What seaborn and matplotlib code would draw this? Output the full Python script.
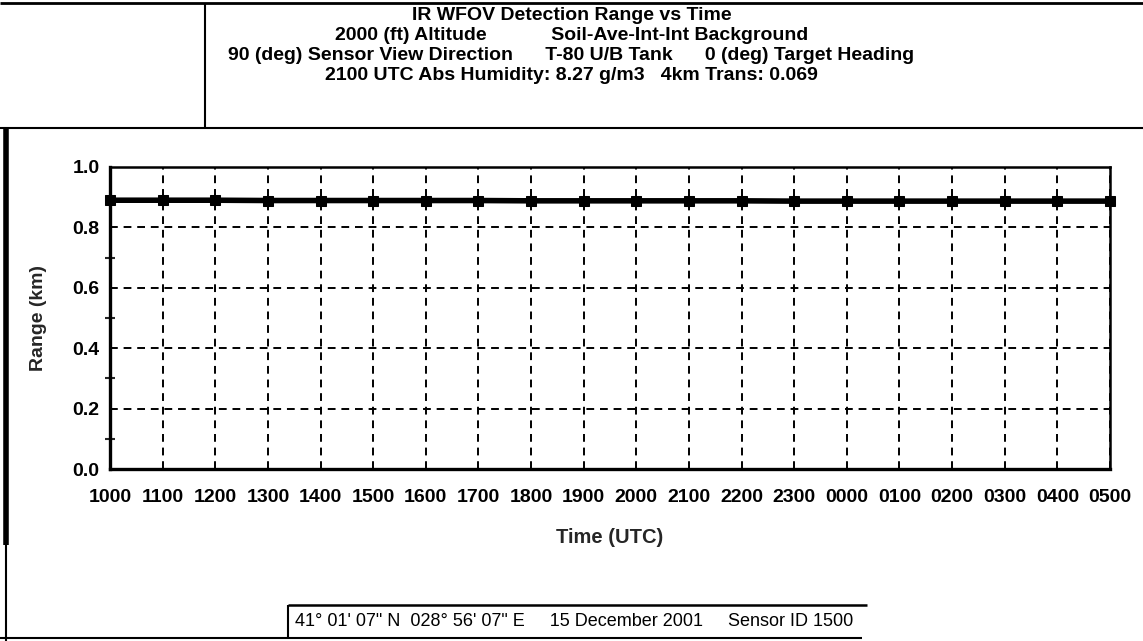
import matplotlib
matplotlib.use("Agg")
import matplotlib.pyplot as plt
from matplotlib.lines import Line2D
from matplotlib.ticker import MultipleLocator, FormatStrFormatter
import seaborn as sns

# Hourly detection range for the night pass
times = ["1000", "1100", "1200", "1300", "1400", "1500", "1600", "1700", "1800", "1900",
         "2000", "2100", "2200", "2300", "0000", "0100", "0200", "0300", "0400", "0500"]
ranges_km = [0.890, 0.890, 0.890, 0.889, 0.889, 0.889, 0.889, 0.889, 0.888, 0.888,
             0.888, 0.888, 0.888, 0.887, 0.887, 0.887, 0.887, 0.887, 0.887, 0.887]

title_lines = [
    "IR WFOV Detection Range vs Time",
    "2000 (ft) Altitude            Soil-Ave-Int-Int Background",
    "90 (deg) Sensor View Direction      T-80 U/B Tank      0 (deg) Target Heading",
    "2100 UTC Abs Humidity: 8.27 g/m3   4km Trans: 0.069",
]
footer = "41\u00b0 01' 07\" N  028\u00b0 56' 07\" E     15 December 2001     Sensor ID 1500"

sns.set_style("white")
plt.rcParams["font.family"] = ["Liberation Sans", "DejaVu Sans"]

W, H = 1143, 641
fig = plt.figure(figsize=(W / 100, H / 100), dpi=100)
ax = fig.add_axes([110 / W, 1 - 469 / H, 1000 / W, 302 / H])

pos = list(range(len(times)))
sns.lineplot(x=pos, y=ranges_km, ax=ax, color="black", linewidth=4.0,
             marker="s", markersize=7, markeredgecolor="black", clip_on=False, zorder=5)

ax.set_xlim(0, len(times) - 1)
ax.set_ylim(0, 1.0)
ax.set_xticks(pos)
ax.set_xticklabels(times)
ax.yaxis.set_major_locator(MultipleLocator(0.2))
ax.yaxis.set_minor_locator(MultipleLocator(0.1))
ax.yaxis.set_major_formatter(FormatStrFormatter("%.1f"))

ax.grid(True, which="major", color="black", linestyle=(0, (4, 3)), linewidth=1.4)
ax.tick_params(axis="both", which="major", direction="inout", length=9, width=1.5,
               colors="black", labelsize=14)
ax.tick_params(axis="y", which="minor", direction="inout", length=7, width=1.5, left=True)
ax.tick_params(axis="x", pad=10)
ax.tick_params(axis="y", pad=3)
for lab in ax.get_xticklabels() + ax.get_yticklabels():
    lab.set_fontweight("bold")

for side in ["left", "bottom"]:
    ax.spines[side].set_linewidth(2.4)
for side in ["top", "right"]:
    ax.spines[side].set_linewidth(1.8)
for s in ax.spines.values():
    s.set_color("black")
    s.set_visible(True)

ax.set_xlabel("Time (UTC)", fontsize=14.5, fontweight="bold", labelpad=16)
ax.set_ylabel("Range (km)", fontsize=14, fontweight="bold", labelpad=18)

# Header block
ys = [15, 35, 56, 76]
for t, y in zip(title_lines, ys):
    fig.text(0.5, 1 - y / H, t, ha="center", va="center", fontsize=14,
             fontweight="bold", color="black")

# Footer block
fig.text(295 / W, 1 - 622 / H, footer, ha="left", va="center", fontsize=13, color="black")


def fline(x0, y0, x1, y1, lw):
    fig.add_artist(Line2D([x0 / W, x1 / W], [1 - y0 / H, 1 - y1 / H],
                          color="black", linewidth=lw, solid_capstyle="butt"))


fline(0, 3, W, 3, 2.0)
fline(205, 3, 205, 128, 1.5)
fline(0, 128, W, 128, 1.5)
fline(6, 128, 6, 545, 4.0)
fline(6, 545, 6, 641, 1.5)
fline(0, 638, 862, 638, 1.5)
fline(288, 605, 867, 605, 1.8)
fline(288, 605, 288, 638, 1.5)

fig.savefig("out.png", dpi=100)
